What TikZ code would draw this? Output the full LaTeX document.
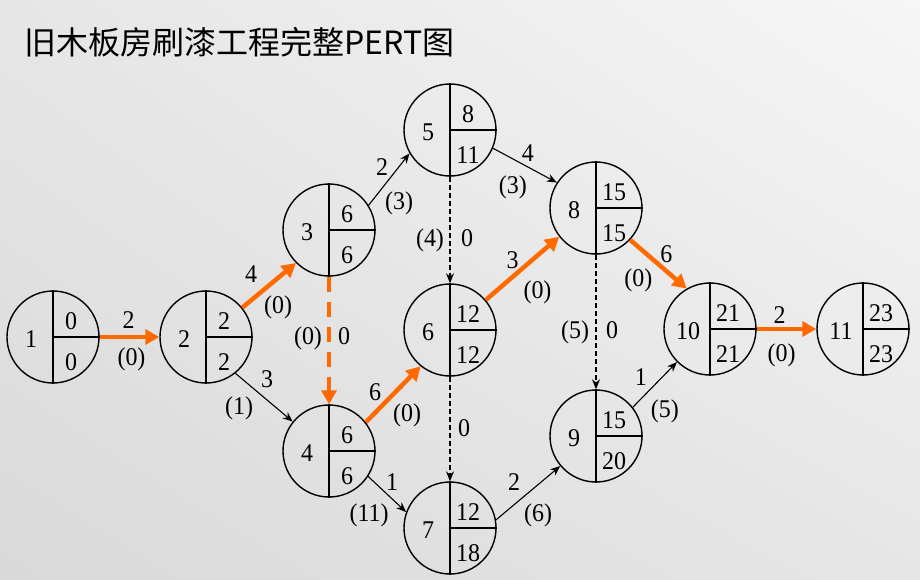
\documentclass[tikz,border=0pt]{standalone}
\usepackage{fontspec}
\setmainfont{Liberation Serif}
\newfontfamily\cjk{Noto Sans CJK SC}
\newfontfamily\numfont[FakeStretch=0.94]{Liberation Serif}
\usetikzlibrary{arrows.meta,shadings}
\definecolor{CritOrange}{HTML}{FF6A00}
\definecolor{BackDark}{HTML}{D9D9D9}
\definecolor{BackMid}{HTML}{E6E6E6}
\definecolor{BackLight}{HTML}{F6F6F6}
\tikzset{x=1pt,y=-1pt,every node/.style={font=\numfont\fontsize{25.5}{30}\selectfont},
 event/.style={circle,draw,line width=1.4pt,minimum size=92pt,inner sep=0pt},
 lab/.style={inner sep=0pt,text height=17pt,text depth=0pt},
 act/.style={-{Stealth[length=10pt,width=8pt]},line width=1.1pt},
 dummy/.style={act,dash pattern=on 5pt off 3pt},
 crit/.style={-{Triangle[length=14pt,width=15pt]},draw=CritOrange,line width=4.5pt},
 critdummy/.style={crit,dash pattern=on 15pt off 10pt}}

\begin{document}
\begin{tikzpicture}
\shade[lower left=BackDark,upper right=BackLight,upper left=BackMid,lower right=BackMid]
 (0,0) rectangle (920,579);
\useasboundingbox (0,0) rectangle (920,579);
\node[anchor=west,inner sep=0pt,font=\cjk\fontsize{32}{36}\selectfont] (title) at (24,42)
 {旧木板房刷漆工程完整PERT图};
% events: number / x / y / earliest / latest
\foreach \i/\px/\py/\es/\lt in {1/53/337/0/0,2/206/337/2/2,3/329/230/6/6,4/329/451/6/6,
 5/450/130/8/11,6/450/330/12/12,7/450/528/12/18,8/596/208/15/15,9/596/436/15/20,
 10/710/329/21/21,11/863/329/23/23}{
 \node[event] (n\i) at (\px,\py) {};
 \draw[line width=1.4pt] (n\i.north)--(n\i.south) (n\i.center)--(n\i.east);
 \node[lab] (id\i) at ([shift={(-22,2)}]n\i.center) {\i};
 \node[lab] (es\i) at ([shift={(18,-16)}]n\i.center) {\es};
 \node[lab] (lt\i) at ([shift={(18,25)}]n\i.center) {\lt};
}
% activities
\draw[crit] (n1)--(n2) node[lab,midway,shift={(-1,-17)}] (d12) {2}
 node[lab,midway,shift={(2,20)}] (f12) {(0)};
\draw[crit] (n2.39)--(n3.225) node[lab,midway,shift={(-18,-11)}] (d23) {4}
 node[lab,midway,shift={(9,20)}] (f23) {(0)};
\draw[act] (n2.309)--(n4.141) node[lab,midway,shift={(3,-18)}] (d24) {3}
 node[lab,midway,shift={(-25,9)}] (f24) {(1)};
\draw[act] (n3.32)--(n5.210) node[lab,midway,shift={(-7,-12)}] (d35) {2}
 node[lab,midway,shift={(10,22)}] (f35) {(3)};
\draw[critdummy] (n3.south)--(n4.north) node[lab,midway,shift={(-21,-5)}] (f34) {(0)}
 node[lab,midway,shift={(15,-5)}] (d34) {0};
\draw[dummy] (n5.south)--(n6.north) node[lab,midway,shift={(-20,8)}] (f56) {(4)}
 node[lab,midway,shift={(17,8)}] (d56) {0};
\draw[crit] (n4.38)--(n6.231) node[lab,midway,shift={(-18,-2)}] (d46) {6}
 node[lab,midway,shift={(14,19)}] (f46) {(0)};
\draw[act] (n4.327)--(n7.160) node[lab,midway,shift={(5,-12)}] (d47) {1}
 node[lab,midway,shift={(-18,19)}] (f47) {(11)};
\draw[dummy] (n6.south)--(n7.north) node[lab,midway,shift={(14,-1)}] (d67) {0};
\draw[act] (n5.337)--(n8.147) node[lab,midway,shift={(3,-12)}] (d58) {4}
 node[lab,midway,shift={(-12,20)}] (f58) {(3)};
\draw[crit] (n6.40)--(n8.218) node[lab,midway,shift={(-10,-8)}] (d68) {3}
 node[lab,midway,shift={(15,22)}] (f68) {(0)};
\draw[act] (n7.10)--(n9.220) node[lab,midway,shift={(-14,-11)}] (d79) {2}
 node[lab,midway,shift={(10,20)}] (f79) {(6)};
\draw[dummy] (n8.south)--(n9.north) node[lab,midway,shift={(-21,8)}] (f89) {(5)}
 node[lab,midway,shift={(16,8)}] (d89) {0};
\draw[crit] (n8.317)--(n10.120) node[lab,midway,shift={(8,-10)}] (d810) {6}
 node[lab,midway,shift={(-20,14)}] (f810) {(0)};
\draw[act] (n9.38)--(n10.225) node[lab,midway,shift={(-14,-8)}] (d910) {1}
 node[lab,midway,shift={(10,24)}] (f910) {(5)};
\draw[crit] (n10)--(n11) node[lab,midway,shift={(-7,-14)}] (d1011) {2}
 node[lab,midway,shift={(-5,24)}] (f1011) {(0)};
\end{tikzpicture}
\end{document}
